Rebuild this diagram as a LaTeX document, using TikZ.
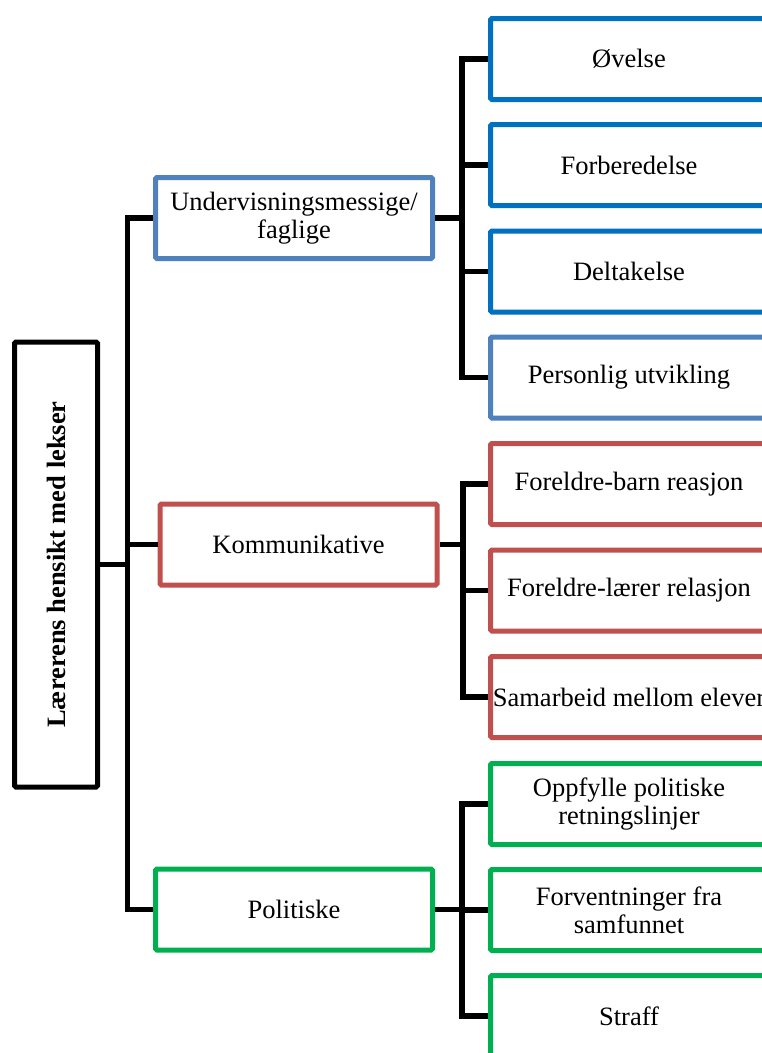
\documentclass[tikz,border=0pt]{standalone}
\usepackage{fontspec}
\setmainfont{Liberation Serif}
\definecolor{cblue}{HTML}{0070C0}
\definecolor{lblue}{HTML}{4F81BD}
\definecolor{cred}{HTML}{C0504D}
\definecolor{cgreen}{HTML}{00B050}
\begin{document}
\begin{tikzpicture}[x=1pt,y=-1pt,
  box/.style={draw, line width=5pt, rounded corners=1.5pt, fill=white, inner sep=0pt,
     align=center, font=\fontsize{26.5}{28}\selectfont},
  lvl/.style={box, minimum width=277pt, minimum height=81pt},
  leaf/.style={box, minimum width=277pt, minimum height=81pt},
  conn/.style={draw=black, line width=5.5pt}]
\useasboundingbox (0,0) rectangle (762,1053);
\fill[white] (0,0) rectangle (762,1053);
\clip (0,0) rectangle (762,1053);

\coordinate (t) at (127.5,564.5);
\coordinate (ta) at (462,218);
\coordinate (tb) at (463,544.5);
\coordinate (tc) at (462,909.5);

\node[box, draw=black, minimum width=83pt, minimum height=445pt] (root) at (56,564.5)
  {\rotatebox{90}{\textbf{Lærerens hensikt med lekser}}};

\node[lvl, draw=lblue] (A) at (294,218) {Undervisningsmessige/\\faglige};
\node[lvl, draw=cred] (B) at (298.5,544.5) {Kommunikative};
\node[lvl, draw=cgreen] (C) at (294,909.5) {Politiske};

\node[leaf, draw=cblue] (a1) at (629,59) {Øvelse};
\node[leaf, draw=cblue] (a2) at (629,165) {Forberedelse};
\node[leaf, draw=cblue] (a3) at (629,271.5) {Deltakelse};
\node[leaf, draw=lblue] (a4) at (629,377.5) {Personlig utvikling};

\node[leaf, draw=cred] (b1) at (629,484) {Foreldre-barn reasjon};
\node[leaf, draw=cred] (b2) at (629,590.5) {Foreldre-lærer relasjon};
\node[leaf, draw=cred] (b3) at (629,697) {Samarbeid mellom elever};

\node[leaf, draw=cgreen] (c1) at (629,804) {Oppfylle politiske\\retningslinjer};
\node[leaf, draw=cgreen] (c2) at (629,910) {Forventninger fra\\samfunnet};
\node[leaf, draw=cgreen] (c3) at (629,1016) {Straff};

% level-0 connectors
\path[conn] (root.east) -- (t);
\path[conn] (A.west) -| (t);
\path[conn] (B.west) -| (t);
\path[conn] (C.west) -| (t);

% level-1 connectors
\path[conn] (A.east) -- (ta);
\path[conn] (a1.west) -| (ta);
\path[conn] (a2.west) -| (ta);
\path[conn] (a3.west) -| (ta);
\path[conn] (a4.west) -| (ta);

\path[conn] (B.east) -- (tb);
\path[conn] (b1.west) -| (tb);
\path[conn] (b2.west) -| (tb);
\path[conn] (b3.west) -| (tb);

\path[conn] (C.east) -- (tc);
\path[conn] (c1.west) -| (tc);
\path[conn] (c2.west) -| (tc);
\path[conn] (c3.west) -| (tc);
\end{tikzpicture}
\end{document}
